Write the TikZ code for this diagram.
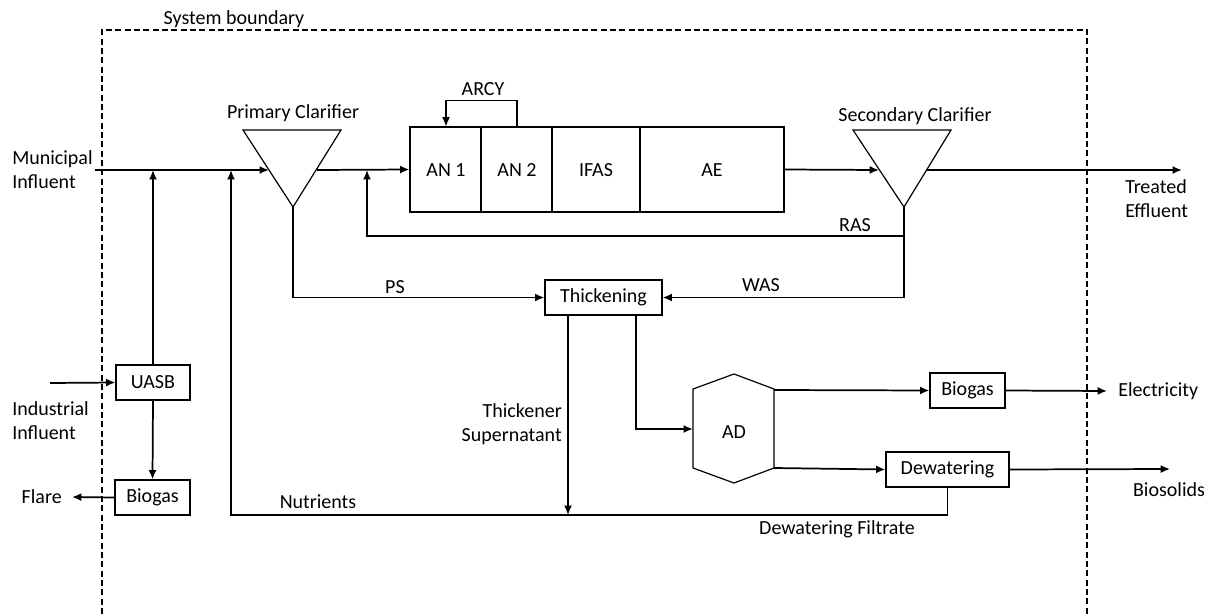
\documentclass[tikz,border=0pt]{standalone}
\usepackage{fontspec}
\setmainfont{Carlito}
\usetikzlibrary{arrows.meta,positioning}

\begin{document}
\begin{tikzpicture}[x=0.75pt, y=-0.75pt, font=\fontsize{15}{18}\selectfont,
  unit/.style={draw, line width=0.9pt, minimum height=26.25pt, inner sep=0pt},
  flow/.style={line width=1.3pt, -{Latex[length=7pt,width=6pt]}},
  thinflow/.style={line width=1pt, -{Latex[length=7pt,width=6pt]}},
  lbl/.style={inner sep=0pt, align=left}]
  \useasboundingbox (0,0) rectangle (1208,614);

  % system boundary
  \draw[dash pattern=on 4.5pt off 2.5pt, line width=0.8pt] (102,614) -- (102,30) -- (1087,30) -- (1087,614);
  \node[lbl] (sysb) at (234,19) {System boundary};

  % clarifiers
  \draw[line width=0.9pt] (243,130) -- (341,130) -- (293,207) -- cycle;
  \node[lbl] (pclab) at (293,113) {Primary Clarifier};
  \coordinate (pcin) at (269,170);
  \coordinate (pcout) at (317,170);
  \coordinate (pcbot) at (293,207);
  \draw[line width=0.9pt] (853,130) -- (951,130) -- (904,207) -- cycle;
  \node[lbl] (sclab) at (915,116) {Secondary Clarifier};
  \coordinate (scin) at (879,170);
  \coordinate (scout) at (927,170);
  \coordinate (scbot) at (904,207);

  % bioreactor
  \node[unit, minimum width=280.5pt, minimum height=63.75pt] (react) at (597,169.5) {};
  \foreach \x in {481,552,640}
    \draw[line width=0.9pt] (\x,127) -- (\x,212);
  \foreach \n/\x/\t in {an1/446/AN 1, an2/517/AN 2, ifas/596/IFAS, ae/712/AE}
    \node[lbl] (\n) at (\x,170) {\t};
  \draw[thinflow] (an2 |- react.north) -- ++(0,-26) -| (an1 |- react.north);
  \node[lbl] (arcy) at (483,89) {ARCY};

  % main line
  \coordinate (muni) at (95,170);
  \coordinate (effl) at (1182,170);
  \coordinate (uasbin) at (153,170);
  \coordinate (nutin) at (231,170);
  \coordinate (rasin) at (367,170);
  \draw[flow] (muni) -- (pcin);
  \draw[flow] (pcout) -- (react.west);
  \draw[flow] (react.east) -- (scin);
  \draw[flow] (scout) -- (effl);
  \node[lbl, anchor=west] (munilab) at (12,170) {Municipal\\Influent};
  \node[lbl, anchor=west] (effllab) at (1125,199) {Treated\\Effluent};

  % sludge lines
  \node[unit, minimum width=87.75pt] (thick) at (603.5,297.5) {Thickening};
  \coordinate (rasj) at (904,236);
  \draw[flow] (scbot) -- (rasj) -| (rasin);
  \draw[flow] (rasj) |- (thick.east);
  \draw[flow] (pcbot) |- (thick.west);
  \node[lbl] (ras) at (855,225) {RAS};
  \node[lbl] (was) at (761,285) {WAS};
  \node[lbl] (ps) at (395,287) {PS};

  % digestion
  \draw[line width=0.9pt] (734,374) -- (774,389) -- (774,468) -- (734,483)
    -- (693,468) -- (693,389) -- cycle;
  \node[lbl] (ad) at (734,432) {AD};
  \coordinate (adin) at (693,429);
  \coordinate (adj) at (636,429);
  \coordinate (adgas) at (774,390);
  \coordinate (adsol) at (774,468);
  \draw[flow] (thick.south -| adj) |- (adin);
  \node[unit, minimum width=56.25pt] (gas2) at (967.5,390.5) {Biogas};
  \node[unit, minimum width=92.25pt] (dew) at (947.5,469.5) {Dewatering};
  \coordinate (elec) at (1107,391);
  \coordinate (biosol) at (1170,469);
  \draw[flow] (adgas) -- (gas2.west);
  \draw[flow] (gas2.east) -- (elec);
  \draw[flow] (adsol) -- (dew.west);
  \draw[flow] (dew.east) -- (biosol);
  \node[lbl, anchor=west] (eleclab) at (1118,391) {Electricity};
  \node[lbl] (biosollab) at (1169,490) {Biosolids};

  % return streams
  \coordinate (nutj) at (568,515);
  \draw[flow] (thick.south -| nutj) -- (nutj);
  \draw[flow] (dew.south) |- (nutin |- nutj) -- (nutin);
  \node[lbl, anchor=east, align=right] (suplab) at (562,424) {Thickener\\Supernatant};
  \node[lbl] (nutlab) at (318,502) {Nutrients};
  \node[lbl] (filtlab) at (837,529) {Dewatering Filtrate};

  % industrial side
  \node[unit, minimum width=55.5pt] (uasb) at (153,382.5) {UASB};
  \node[unit, minimum width=56.25pt] (gas1) at (152.5,497.5) {Biogas};
  \coordinate (ind) at (50,383);
  \coordinate (flare) at (72,497);
  \draw[flow] (ind) -- (uasb.west);
  \draw[flow] (uasb.north) -- (uasbin);
  \draw[flow] (uasb.south) -- (gas1.north);
  \draw[flow] (gas1.west) -- (flare);
  \node[lbl, anchor=west] (indlab) at (12,421) {Industrial\\Influent};
  \node[lbl, anchor=east] (flarelab) at (62,497) {Flare};
\end{tikzpicture}
\end{document}
